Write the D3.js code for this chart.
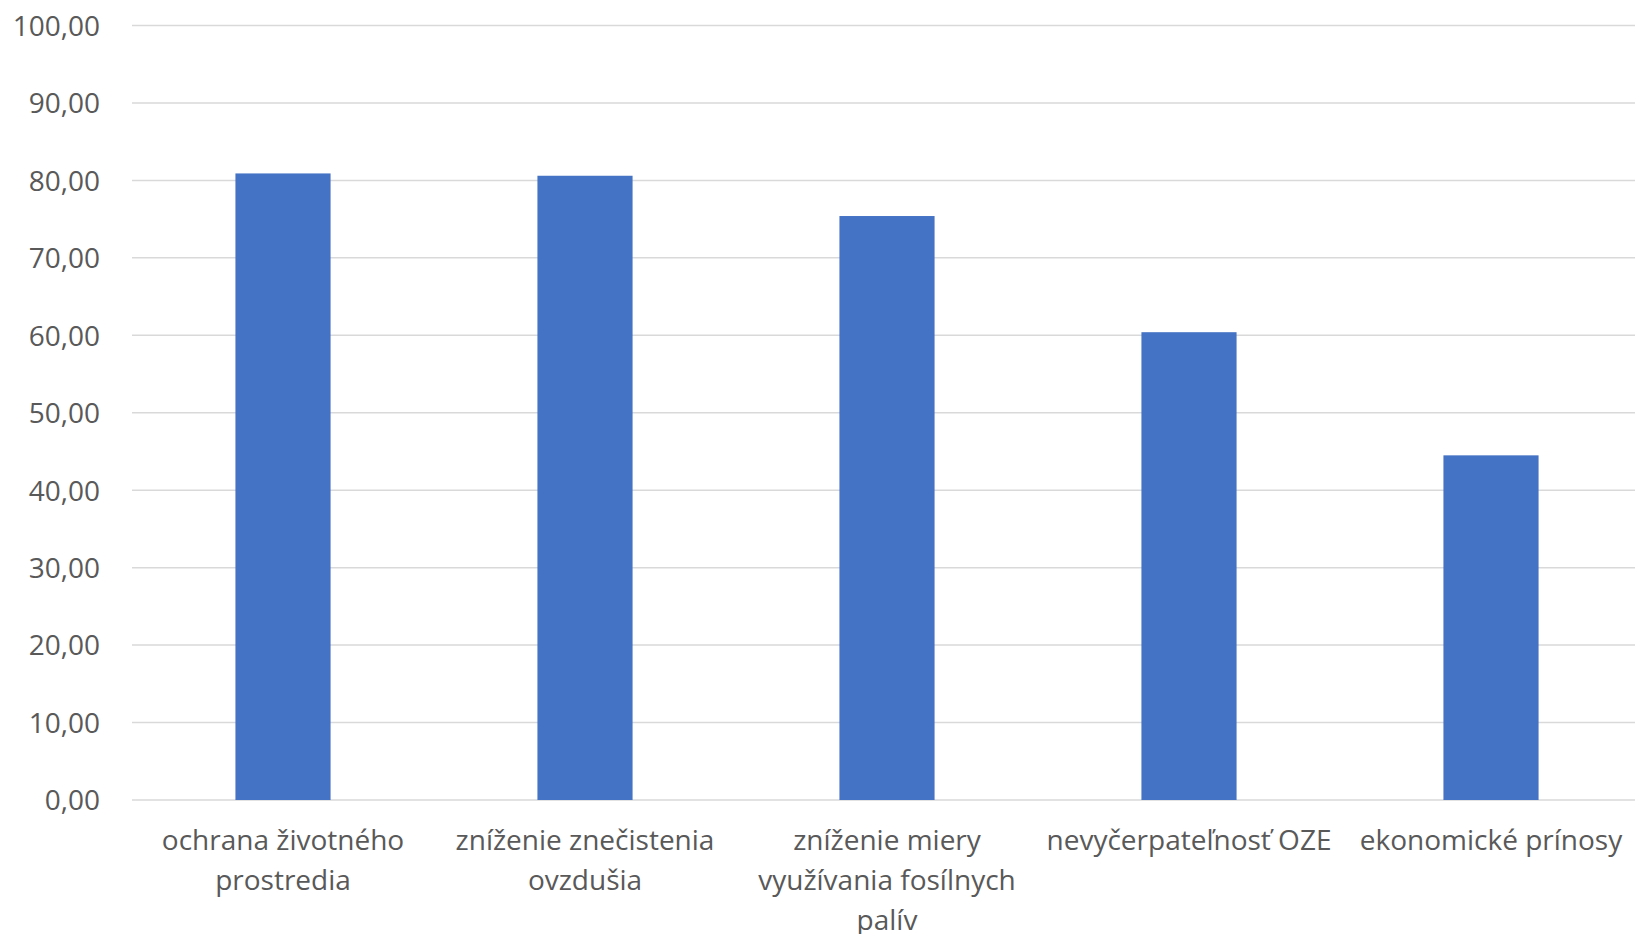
<!DOCTYPE html>
<html>
<head>
<meta charset="utf-8">
<script src="https://cdn.jsdelivr.net/npm/d3@7"></script>
<style>
  html, body { margin: 0; padding: 0; background: #ffffff; }
  svg { display: block; }
</style>
</head>
<body>
<svg id="chart" width="1635" height="934"></svg>
<script>
// Data
const categories = [
  "ochrana životného\nprostredia",
  "zníženie znečistenia\novzdušia",
  "zníženie miery\nvyužívania fosílnych\npalív",
  "nevyčerpateľnosť OZE",
  "ekonomické prínosy"
];
const values = [80.9, 80.6, 75.4, 60.4, 44.5];
const yTicks = [0, 10, 20, 30, 40, 50, 60, 70, 80, 90, 100];

const svg = d3.select("#chart");
const W = 1635, H = 934;
const plot = { left: 132, right: 1642, top: 25.5, bottom: 800 };

const x = d3.scaleBand()
  .domain(categories)
  .range([plot.left, plot.right])
  .paddingInner(0.685)
  .paddingOuter(0.3425);

const y = d3.scaleLinear()
  .domain([0, 100])
  .range([plot.bottom, plot.top]);

const fmt = v => d3.format(".2f")(v).replace(".", ",");
const font = "'Open Sans', 'Liberation Sans', sans-serif";

// gridlines
svg.append("g")
  .selectAll("line")
  .data(yTicks)
  .join("line")
  .attr("x1", plot.left)
  .attr("x2", W)
  .attr("y1", d => y(d))
  .attr("y2", d => y(d))
  .attr("stroke", "#d9d9d9")
  .attr("stroke-width", 1.5);

// y axis labels
const yAxis = d3.axisLeft(y).tickValues(yTicks).tickFormat(fmt).tickSize(0).tickPadding(0);
const gy = svg.append("g")
  .attr("transform", `translate(100,0)`)
  .call(yAxis);
gy.select(".domain").remove();
gy.selectAll("text")
  .attr("font-family", font)
  .attr("font-size", 28)
  .attr("fill", "#595959")
  .attr("dy", "0.35em");

// bars
svg.append("g")
  .selectAll("rect")
  .data(values)
  .join("rect")
  .attr("x", (d, i) => x(categories[i]))
  .attr("width", x.bandwidth())
  .attr("y", d => y(d))
  .attr("height", d => y(0) - y(d))
  .attr("fill", "#4472c4");

// x axis labels
const xAxis = d3.axisBottom(x).tickSize(0).tickFormat(() => "");
const gx = svg.append("g")
  .attr("transform", `translate(0,${plot.bottom})`)
  .call(xAxis);
gx.select(".domain").remove();
gx.selectAll(".tick").each(function(d) {
  const lines = d.split("\n");
  const t = d3.select(this).select("text")
    .attr("font-family", font)
    .attr("font-size", 28)
    .attr("fill", "#595959")
    .attr("text-anchor", "middle")
    .attr("y", 0)
    .attr("dy", null);
  t.selectAll("tspan")
    .data(lines)
    .join("tspan")
    .attr("x", 0)
    .attr("y", (l, i) => 50 + i * 40)
    .text(l => l);
});
</script>
</body>
</html>
